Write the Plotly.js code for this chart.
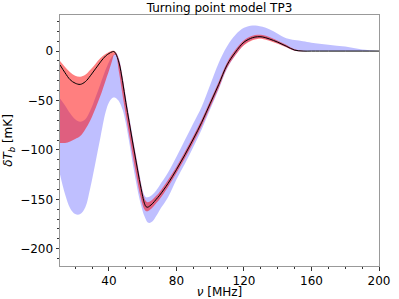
<!DOCTYPE html>
<html>
<head>
<meta charset="utf-8">
<script src="https://cdn.plot.ly/plotly-3.0.1.min.js"></script>
<style>html,body{margin:0;padding:0;background:#fff;}#chart{width:399px;height:299px;}</style>
</head>
<body>
<div id="chart"></div>
<script>
var freq = [11,14,17,20,23,26,29,32,35,38,40,42,43,44,46,48,50,52,54,56,58,60,61,62,63,64,66,68,70,75,80,85,90,95,100,105,110,115,120,125,128,131,135,140,145,150,155,160,170,180,190,200];
var median = [-14,-22,-29,-32.5,-33.7,-31,-25,-18,-11,-5,-2.5,-0.7,-0.5,-2.5,-12,-30,-52,-72,-92,-111,-130,-147,-154,-157.5,-158,-157,-154,-150,-146,-134,-120,-105,-89,-72,-53,-34,-14,-1,9,13.5,14.5,14.3,12.3,9,5,1,0,0,0,0,0,0];
var redHi = [-10,-16,-21.5,-25,-26,-24,-19,-13,-7,-3,-1,0.3,0.3,-1,-9,-26,-48,-68,-88,-107,-126,-143,-149,-152,-153,-152.5,-150,-146.5,-142.5,-130.5,-117,-102,-86,-69,-50,-31,-11.5,1.5,11,15.5,16.5,16.3,14.3,10.5,6.3,1.8,0.3,0,0,0,0,0];
var redLo = [-93,-93,-91.5,-89,-86,-79,-70,-58,-45,-30,-20,-9,-4,-4,-22,-44,-65,-85,-105,-124,-142,-156,-160,-162,-162,-161,-158,-154,-150,-137.5,-123.5,-108.5,-92.5,-75.5,-56.5,-37.5,-17,-4,6,11,12.3,12.3,10.5,7.5,3.8,0.3,-0.2,0,0,0,0,0];
var blueHi = [-48,-55,-63,-69,-71.5,-69,-60,-47,-33,-19,-11,-5,-3.5,-1.5,-8,-25,-46,-66,-86,-105,-124,-141,-146,-148,-148,-147.5,-145,-141,-136,-123,-107,-90,-73,-56,-34,-12,5,16.5,23.5,25.8,25.5,24.5,22,17.5,13,11.2,10,8.5,6.5,4.5,1.5,0];
var blueLo = [-125,-145,-159,-165,-165,-158,-138,-113,-87,-62,-52,-47.5,-47,-47.5,-51,-59,-73,-92,-113,-132,-149,-162,-167,-171,-173.5,-174,-172,-167,-161,-148,-130,-114,-97,-79,-59,-39,-18,-4,6.5,11.8,13,13,11,8,4,0.3,-0.2,0,0,0,0,0];

var xTickStep = 40, yTickStep = 50;
var titleText = 'Turning point model TP3';
var xTitle = '<i>ν</i> [MHz]';
var yTitle = '<i>δT</i><sub><i>b</i></sub> [mK]';

function band(lo, hi, color) {
  return [
    {x: freq, y: lo, type: 'scatter', mode: 'lines', line: {width: 0, shape: 'spline', smoothing: 1}, hoverinfo: 'skip', showlegend: false},
    {x: freq, y: hi, type: 'scatter', mode: 'lines', fill: 'tonexty', fillcolor: color, line: {width: 0, shape: 'spline', smoothing: 1}, hoverinfo: 'skip', showlegend: false}
  ];
}

var data = [].concat(
  band(blueLo, blueHi, 'rgba(0,0,255,0.25)'),
  band(redLo, redHi, 'rgba(255,0,0,0.5)'),
  [{x: freq, y: median, type: 'scatter', mode: 'lines', line: {color: '#000', width: 1, shape: 'spline', smoothing: 1}, showlegend: false}]
);

var axisCommon = {
  ticks: 'outside', ticklen: 3.5, tickwidth: 1, tickcolor: '#333',
  showline: true, mirror: true, linecolor: '#999', linewidth: 1,
  showgrid: false, zeroline: false,
  tickfont: {family: 'DejaVu Sans', size: 12, color: '#000'}
};

var layout = {
  width: 399, height: 299,
  margin: {l: 60, r: 20, t: 15, b: 33},
  paper_bgcolor: '#fff', plot_bgcolor: '#fff',
  font: {family: 'DejaVu Sans', size: 12, color: '#000'},
  title: {text: titleText, font: {family: 'DejaVu Sans', size: 12, color: '#000'}, xref: 'paper', x: 0.5, xanchor: 'center', yref: 'container', y: 1 - 8/299, yanchor: 'middle'},
  xaxis: Object.assign({}, axisCommon, {
    range: [11, 200], tick0: 0, dtick: xTickStep,
    minor: {ticks: 'outside', tick0: 0, dtick: 10, ticklen: 2, tickcolor: '#333', showgrid: false},
    title: {text: xTitle, font: {family: 'DejaVu Sans', size: 12, color: '#000'}, standoff: 2}
  }),
  yaxis: Object.assign({}, axisCommon, {
    range: [-217.5, 36.5], tick0: 0, dtick: yTickStep,
    minor: {ticks: 'outside', tick0: 0, dtick: 10, ticklen: 2, tickcolor: '#333', showgrid: false},
    title: {text: yTitle, font: {family: 'DejaVu Sans', size: 12, color: '#000'}, standoff: 4}
  })
};

Plotly.newPlot('chart', data, layout, {staticPlot: true, displayModeBar: false});
</script>
</body>
</html>
